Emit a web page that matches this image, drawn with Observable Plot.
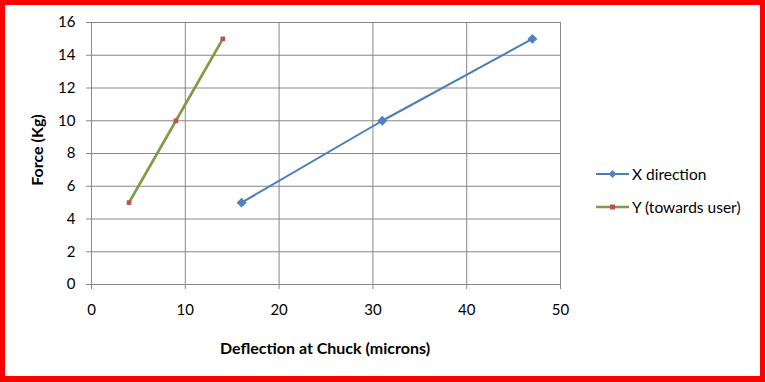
<!DOCTYPE html>
<html>
<head>
<meta charset="utf-8">
<script src="https://cdn.jsdelivr.net/npm/d3@7"></script>
<script src="https://cdn.jsdelivr.net/npm/@observablehq/plot@0.6"></script>
<style>
  html, body { margin: 0; padding: 0; background: #fff; }
  #wrap { position: relative; width: 765px; height: 382px; overflow: hidden; font-family: Lato, "Open Sans", sans-serif; }
  #border { position: absolute; left: 0; top: 0; width: 765px; height: 382px; box-sizing: border-box; border: 5px solid #ff0000; border-bottom-width: 6px; pointer-events: none; }
  .lbl { position: absolute; font-weight: bold; font-size: 16px; color: #000; white-space: nowrap; }
  #ylab { left: 36px; top: 150px; transform: translate(-50%, -50%) rotate(-90deg); }
  #xlab { left: 325px; top: 347px; transform: translate(-50%, -50%); }
  .leg { position: absolute; left: 596px; font-size: 15.5px; color: #000; display: flex; align-items: center; white-space: nowrap; }
  .leg svg { margin-right: 3px; }
</style>
</head>
<body>
<div id="wrap">
  <div id="chart"></div>
  <div class="lbl" id="ylab">Force (Kg)</div>
  <div class="lbl" id="xlab">Deflection at Chuck (microns)</div>
  <div class="leg" style="top:164px"><svg width="33" height="20"><line x1="0" x2="33" y1="10" y2="10" stroke="#4A7EBB" stroke-width="2"/><path d="M16.5,6 L20.5,10 L16.5,14 L12.5,10 Z" fill="#4F81BD"/></svg>X direction</div>
  <div class="leg" style="top:197px"><svg width="33" height="20"><line x1="0" x2="33" y1="10" y2="10" stroke="#7E9B45" stroke-width="2.5"/><rect x="14" y="7.5" width="5" height="5" fill="#C0504D"/></svg>Y (towards user)</div>
  <div id="border"></div>
</div>
<script>
const xDirDeflection = [16, 31, 47];
const xDirForce = [5, 10, 15];
const yDirDeflection = [4, 9, 14];
const yDirForce = [5, 10, 15];
const xTicks = [0, 10, 20, 30, 40, 50];
const yTicks = [0, 2, 4, 6, 8, 10, 12, 14, 16];

const xData = xDirDeflection.map((d, i) => ({x: d, y: xDirForce[i]}));
const yData = yDirDeflection.map((d, i) => ({x: d, y: yDirForce[i]}));

const grid = "#878787";
const chart = Plot.plot({
  width: 765,
  height: 382,
  marginLeft: 91,
  marginRight: 205,
  marginTop: 22,
  marginBottom: 98,
  style: {fontFamily: "Lato, 'Open Sans', sans-serif", fontSize: "15px", color: "#000", background: "transparent"},
  x: {domain: [0, 50], ticks: xTicks},
  y: {domain: [0, 16], ticks: yTicks},
  marks: [
    Plot.gridX(xTicks, {stroke: grid, strokeOpacity: 1, strokeWidth: 1}),
    Plot.gridY(yTicks, {stroke: grid, strokeOpacity: 1, strokeWidth: 1}),
    Plot.axisX(xTicks, {tickSize: 5, tickPadding: 15, stroke: grid, label: null, fill: "#000", fontSize: 15}),
    Plot.axisY(yTicks, {tickSize: 5, tickPadding: 11, stroke: grid, label: null, fill: "#000", fontSize: 15}),
    Plot.line(xData, {x: "x", y: "y", stroke: "#4A7EBB", strokeWidth: 2}),
    Plot.dot(xData, {x: "x", y: "y", symbol: "diamond2", r: 4.5, fill: "#4F81BD", stroke: "none"}),
    Plot.line(yData, {x: "x", y: "y", stroke: "#7E9B45", strokeWidth: 2.7}),
    Plot.dot(yData, {x: "x", y: "y", symbol: "square", r: 2.6, fill: "#C0504D", stroke: "none"})
  ]
});
document.getElementById("chart").appendChild(chart);
</script>
</body>
</html>
